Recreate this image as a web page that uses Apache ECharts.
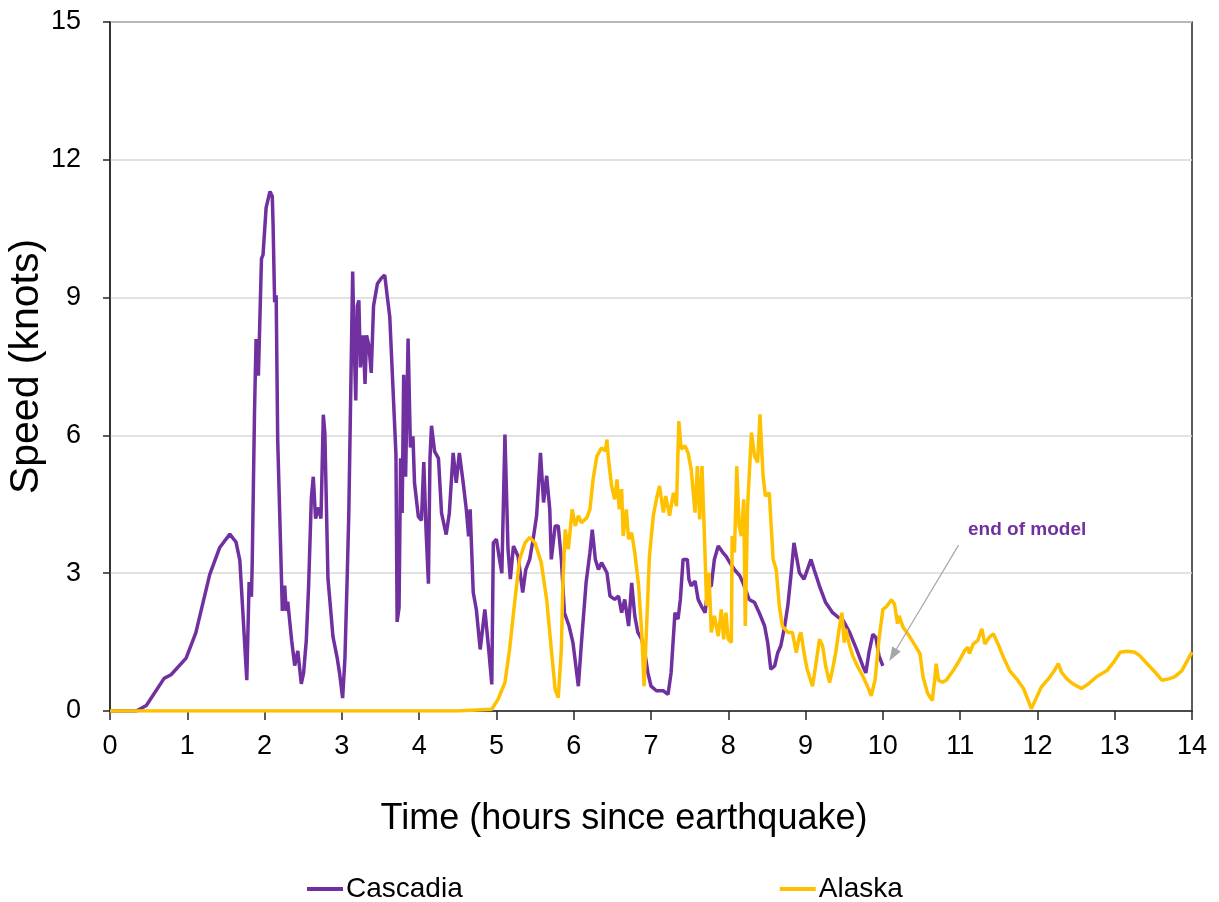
<!DOCTYPE html>
<html>
<head>
<meta charset="utf-8">
<title>Current speed</title>
<script src="https://cdn.jsdelivr.net/npm/echarts@6.0.0/dist/echarts.min.js"></script>
<style>
    html, body { margin: 0; padding: 0; background: #fff; }
    #main { width: 1219px; height: 902px; }
</style>
</head>
<body>
<div id="main"></div>
<script>
// hours since earthquake / speed in knots
var cascadiaTime = [0, 0.34, 0.47, 0.70, 0.79, 0.985, 1.11, 1.29, 1.42, 1.55, 1.63, 1.68, 1.77, 1.80, 1.83, 1.84, 1.87, 1.89, 1.92, 1.96,
    1.98, 2.02, 2.07, 2.10, 2.11, 2.13, 2.15, 2.17, 2.23, 2.26, 2.28, 2.30, 2.35, 2.39, 2.43, 2.475, 2.505, 2.54, 2.57, 2.605,
    2.63, 2.66, 2.70, 2.73, 2.76, 2.78, 2.82, 2.885, 2.94, 2.97, 3.01, 3.04, 3.07, 3.09, 3.14, 3.155, 3.18, 3.20, 3.22, 3.24,
    3.275, 3.30, 3.32, 3.35, 3.38, 3.41, 3.46, 3.51, 3.555, 3.585, 3.62, 3.66, 3.70, 3.715, 3.74, 3.76, 3.78, 3.80, 3.825, 3.857,
    3.887, 3.92, 3.94, 3.99, 4.03, 4.06, 4.09, 4.12, 4.14, 4.16, 4.20, 4.25, 4.29, 4.35, 4.39, 4.44, 4.48, 4.52, 4.57, 4.61,
    4.64, 4.66, 4.70, 4.74, 4.79, 4.85, 4.90, 4.94, 4.96, 5.0, 5.04, 5.07, 5.11, 5.15, 5.18, 5.22, 5.28, 5.34, 5.38, 5.43,
    5.475, 5.52, 5.57, 5.61, 5.65, 5.69, 5.71, 5.76, 5.80, 5.84, 5.88, 5.94, 5.99, 6.06, 6.10, 6.16, 6.21, 6.24, 6.28, 6.32,
    6.36, 6.43, 6.47, 6.53, 6.58, 6.62, 6.66, 6.71, 6.75, 6.79, 6.83, 6.88, 6.92, 6.96, 7.0, 7.07, 7.16, 7.22, 7.26, 7.31,
    7.35, 7.38, 7.415, 7.47, 7.49, 7.52, 7.57, 7.61, 7.65, 7.70, 7.74, 7.78, 7.82, 7.87, 7.93, 7.97, 8.02, 8.08, 8.15, 8.19,
    8.27, 8.34, 8.40, 8.47, 8.51, 8.55, 8.60, 8.64, 8.68, 8.73, 8.77, 8.81, 8.85, 8.87, 8.92, 8.98, 9.07, 9.11, 9.18, 9.26,
    9.35, 9.43, 9.48, 9.57, 9.66, 9.74, 9.78, 9.82, 9.87, 9.91, 9.95, 10.0];
var cascadiaSpeed = [0, 0, 0.12, 0.71, 0.79, 1.15, 1.70, 2.97, 3.56, 3.85, 3.68, 3.28, 0.67, 2.81, 2.49, 3.2, 6.53, 8.1, 7.3, 9.85,
    9.93, 10.96, 11.31, 11.2, 10.6, 8.9, 9.05, 5.9, 2.18, 2.73, 2.18, 2.38, 1.54, 0.99, 1.31, 0.59, 0.83, 1.54, 2.73, 4.63,
    5.1, 4.19, 4.43, 4.19, 6.45, 6.05, 2.89, 1.62, 1.15, 0.83, 0.28, 1.15, 2.97, 4.31, 9.57, 8.27, 6.76, 8.82, 8.94, 7.48,
    8.18, 7.12, 8.18, 7.95, 7.36, 8.82, 9.3, 9.42, 9.49, 9.06, 8.58, 7.08, 5.58, 1.94, 2.25, 5.5, 4.31, 7.32, 5.1, 8.11,
    5.74, 5.98, 4.97, 4.23, 4.15, 5.42, 3.91, 2.77, 5.5, 6.21, 5.65, 5.5, 4.31, 3.84, 4.3, 5.62, 4.97, 5.62, 4.97, 4.39,
    3.8, 4.39, 2.58, 2.21, 1.34, 2.21, 1.34, 0.58, 3.66, 3.74, 3.3, 3.0, 6.02, 3.52, 2.87, 3.59, 3.37, 2.58, 3.08, 3.3,
    3.74, 4.25, 5.62, 4.54, 5.12, 4.39, 3.3, 4.03, 4.03, 3.3, 2.14, 1.85, 1.49, 0.54, 1.49, 2.79, 3.45, 3.95, 3.30, 3.08,
    3.23, 3.01, 2.5, 2.43, 2.5, 2.14, 2.43, 1.85, 2.79, 2.07, 1.71, 1.56, 1.27, 0.83, 0.54, 0.44, 0.44, 0.36, 0.83, 2.14,
    2.0, 2.43, 3.30, 3.30, 2.87, 2.72, 2.83, 2.43, 2.29, 2.14, 2.72, 2.72, 3.30, 3.59, 3.45, 3.37, 3.23, 3.08, 2.94, 2.79,
    2.43, 2.36, 2.14, 1.85, 1.49, 0.91, 0.98, 1.27, 1.42, 1.85, 2.29, 2.94, 3.66, 3.70, 3.01, 2.87, 3.30, 3.08, 2.72, 2.36,
    2.14, 2.03, 1.99, 1.71, 1.34, 0.98, 0.83, 1.27, 1.67, 1.6, 1.2, 0.98];

var alaskaTime = [0, 4.49, 4.94, 5.02, 5.11, 5.17, 5.24, 5.30, 5.37, 5.43, 5.50, 5.58, 5.65, 5.71, 5.76, 5.80, 5.84, 5.86, 5.89, 5.93,
    5.98, 6.02, 6.06, 6.10, 6.17, 6.21, 6.25, 6.30, 6.36, 6.41, 6.43, 6.45, 6.49, 6.53, 6.56, 6.59, 6.62, 6.64, 6.68, 6.71,
    6.75, 6.79, 6.84, 6.88, 6.91, 6.94, 6.98, 7.03, 7.07, 7.11, 7.16, 7.19, 7.24, 7.29, 7.33, 7.36, 7.39, 7.44, 7.48, 7.52,
    7.57, 7.60, 7.63, 7.66, 7.69, 7.72, 7.75, 7.78, 7.82, 7.87, 7.91, 7.94, 7.97, 8.0, 8.04, 8.05, 8.08, 8.11, 8.14, 8.17,
    8.20, 8.22, 8.25, 8.30, 8.34, 8.38, 8.41, 8.45, 8.48, 8.53, 8.58, 8.62, 8.66, 8.70, 8.77, 8.83, 8.88, 8.92, 8.94, 8.98,
    9.02, 9.09, 9.13, 9.18, 9.22, 9.26, 9.31, 9.35, 9.39, 9.44, 9.47, 9.50, 9.52, 9.57, 9.61, 9.67, 9.74, 9.80, 9.85, 9.90,
    9.95, 10.0, 10.04, 10.11, 10.15, 10.19, 10.21, 10.26, 10.35, 10.43, 10.48, 10.52, 10.58, 10.64, 10.67, 10.69, 10.72, 10.77, 10.82, 10.91,
    10.99, 11.06, 11.10, 11.12, 11.17, 11.23, 11.28, 11.32, 11.38, 11.43, 11.49, 11.56, 11.64, 11.73, 11.82, 11.88, 11.92, 11.97, 12.05, 12.16,
    12.22, 12.27, 12.31, 12.38, 12.46, 12.57, 12.66, 12.77, 12.90, 12.99, 13.07, 13.16, 13.26, 13.32, 13.42, 13.52, 13.61, 13.70, 13.78, 13.87,
    13.93, 14.0];
var alaskaSpeed = [0, 0, 0.04, 0.25, 0.62, 1.34, 2.43, 3.30, 3.66, 3.78, 3.66, 3.23, 2.43, 1.34, 0.47, 0.29, 1.34, 2.79, 3.95, 3.52,
    4.39, 4.03, 4.25, 4.10, 4.21, 4.39, 5.04, 5.55, 5.73, 5.66, 5.91, 5.48, 4.9, 4.61, 5.04, 4.39, 4.83, 3.81, 4.39, 3.74,
    3.88, 3.45, 2.72, 1.71, 0.54, 1.71, 3.37, 4.25, 4.61, 4.9, 4.32, 4.68, 4.25, 4.75, 4.46, 6.31, 5.70, 5.77, 5.62, 5.26,
    4.32, 5.33, 4.17, 5.33, 3.88, 2.29, 3.01, 1.71, 2.07, 1.63, 2.21, 1.56, 2.14, 1.56, 1.49, 3.81, 3.45, 5.33, 4.03, 3.81,
    4.61, 1.85, 4.46, 6.06, 5.55, 5.41, 6.46, 5.12, 4.68, 4.75, 3.30, 3.08, 2.29, 1.85, 1.71, 1.71, 1.27, 1.63, 1.71, 1.27,
    0.91, 0.54, 0.98, 1.56, 1.42, 0.98, 0.62, 0.91, 1.27, 1.85, 2.14, 1.49, 1.78, 1.42, 1.2, 0.98, 0.76, 0.54, 0.33, 0.69,
    1.56, 2.21, 2.26, 2.42, 2.33, 1.9, 2.07, 1.83, 1.61, 1.39, 1.25, 0.74, 0.38, 0.23, 0.67, 1.03, 0.67, 0.63, 0.67, 0.88,
    1.1, 1.32, 1.39, 1.25, 1.46, 1.54, 1.79, 1.46, 1.61, 1.68, 1.46, 1.17, 0.88, 0.70, 0.49, 0.23, 0.05, 0.23, 0.52, 0.74,
    0.88, 1.03, 0.85, 0.70, 0.59, 0.49, 0.59, 0.75, 0.88, 1.07, 1.28, 1.30, 1.28, 1.21, 1.03, 0.85, 0.67, 0.70, 0.75, 0.88,
    1.07, 1.28];

// arrow pointing at the end of the Cascadia run
var endArrowFrom = [10.98, 3.61];
var endArrowTo = [10.13, 1.22];

function pairs(xs, ys) {
    return xs.map(function (x, i) { return [x, ys[i]]; });
}

var chart = {};

chart.init = function () {
    var myChart = echarts.init(document.getElementById('main'));
    var font = 'Arial, "Liberation Sans", sans-serif';
    var option = {
        animation: false,
        textStyle: { fontFamily: font },
        grid: {
            left: 110,
            right: 27,
            top: 22,
            bottom: 191,
            outerBoundsMode: 'none',
            containLabel: false,
            show: true,
            borderColor: '#262626',
            borderWidth: 1.5
        },
        legend: {
            data: ['Cascadia', 'Alaska'],
            left: 302,
            top: 870,
            itemGap: 317,
            itemWidth: 36,
            itemHeight: 4,
            icon: 'rect',
            textStyle: { fontSize: 28, color: '#000', fontFamily: font, padding: [0, 0, 0, -2] }
        },
        xAxis: {
            type: 'value',
            min: 0,
            max: 14,
            interval: 1,
            name: 'Time (hours since earthquake)',
            nameLocation: 'middle',
            nameMoveOverlap: false,
            nameGap: 90,
            nameTextStyle: { fontSize: 36, color: '#000', fontFamily: font, padding: [0, 54, 0, 0] },
            axisLine: { onZero: false, lineStyle: { color: '#262626', width: 1.5 } },
            axisTick: { show: true, inside: false, length: 9, lineStyle: { color: '#262626', width: 1.5 } },
            axisLabel: { fontSize: 27, color: '#000', margin: 22 },
            splitLine: { show: false }
        },
        yAxis: {
            type: 'value',
            min: 0,
            max: 15,
            interval: 3,
            name: 'Speed (knots)',
            nameLocation: 'middle',
            nameMoveOverlap: false,
            nameGap: 63,
            nameTextStyle: { fontSize: 41, color: '#000', fontFamily: font },
            axisLine: { show: true, lineStyle: { color: '#262626', width: 1.5 } },
            axisTick: { show: true, inside: false, length: 7, lineStyle: { color: '#262626', width: 1.5 } },
            axisLabel: { fontSize: 27, color: '#000', margin: 29 },
            splitLine: { show: true, lineStyle: { color: '#d9d9d9', width: 1.5 } }
        },
        series: [
            {
                name: 'Cascadia',
                type: 'line',
                data: pairs(cascadiaTime, cascadiaSpeed),
                showSymbol: false,
                symbol: 'none',
                smooth: false,
                color: '#7030a0',
                lineStyle: { color: '#7030a0', width: 3.5 },
                markLine: {
                    silent: true,
                    symbol: ['none', 'triangle'],
                    symbolSize: [10, 14],
                    label: { show: false },
                    lineStyle: { color: '#a6a6a6', width: 1.2, type: 'solid' },
                    data: [[{ coord: endArrowFrom }, { coord: endArrowTo }]]
                }
            },
            {
                name: 'Alaska',
                type: 'line',
                data: pairs(alaskaTime, alaskaSpeed),
                showSymbol: false,
                symbol: 'none',
                smooth: false,
                color: '#ffc000',
                lineStyle: { color: '#ffc000', width: 3.5 }
            }
        ],
        graphic: [
            {
                type: 'text',
                left: 968,
                top: 520,
                style: {
                    text: 'end of model',
                    fill: '#7030a0',
                    font: 'bold 19px Arial, "Liberation Sans", sans-serif'
                }
            }
        ]
    };
    myChart.setOption(option);
};

chart.init();
</script>
</body>
</html>
